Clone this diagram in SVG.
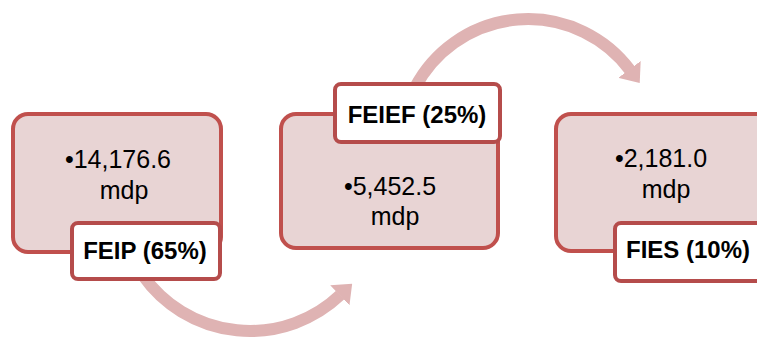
<svg xmlns="http://www.w3.org/2000/svg" width="757" height="341" viewBox="0 0 757 341">
<style>
.box{fill:#e8d4d4;stroke:#c0504d;stroke-width:4}
.lbl{fill:#ffffff;stroke:#b54c4b;stroke-width:4}
.val{font-family:"Liberation Sans",Arial,sans-serif;font-size:25px;fill:#000;text-anchor:middle}
.ttl{font-family:"Liberation Sans",Arial,sans-serif;font-size:24px;font-weight:bold;fill:#000;text-anchor:middle}
.arc{fill:none;stroke:#dfb3b3;stroke-width:12}
</style>
<defs>
<marker id="ah" markerUnits="userSpaceOnUse" viewBox="0 0 17 28" markerWidth="17" markerHeight="28" refX="0.5" refY="14" orient="auto">
<path d="M0,0 L17,14 L0,28 Z" fill="#dfb3b3"/>
</marker>
</defs>
<g id="connectors">
<path class="arc" d="M142.7,275.1 A131,131 0 0 0 340.2,295" marker-end="url(#ah)"/>
<path class="arc" d="M415,87.5 A127.5,127.5 0 0 1 629.8,69.8" marker-end="url(#ah)"/>
</g>
<g id="node-feip">
<rect class="box" x="13" y="114" width="208" height="138" rx="15"/>
<text class="val" x="118" y="168">•14,176.6</text>
<text class="val" x="124" y="199">mdp</text>
<rect class="lbl" x="72" y="223" width="148" height="56" rx="6"/>
<text class="ttl" x="145" y="259">FEIP (65%)</text>
</g>
<g id="node-feief">
<rect class="box" x="281" y="114" width="217" height="134" rx="15"/>
<text class="val" x="390" y="195">•5,452.5</text>
<text class="val" x="395" y="225">mdp</text>
<rect class="lbl" x="335" y="84" width="165" height="58" rx="6"/>
<text class="ttl" x="417" y="123">FEIEF (25%)</text>
</g>
<g id="node-fies">
<rect class="box" x="556" y="114" width="240" height="137" rx="15"/>
<text class="val" x="661" y="167">•2,181.0</text>
<text class="val" x="666" y="198">mdp</text>
<rect class="lbl" x="615" y="223" width="180" height="58" rx="6"/>
<text class="ttl" x="688" y="258">FIES (10%)</text>
</g>
</svg>
